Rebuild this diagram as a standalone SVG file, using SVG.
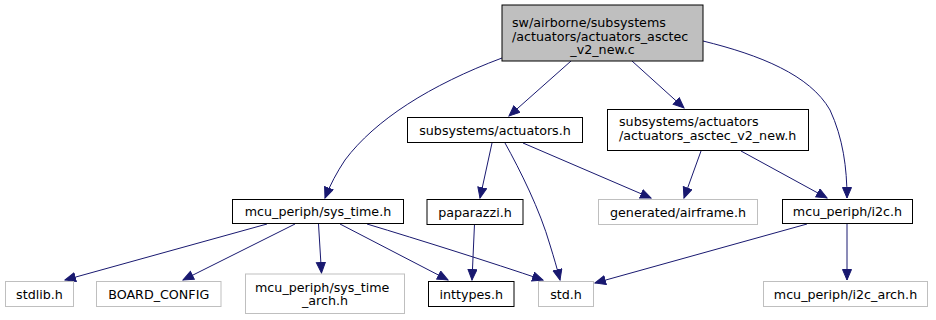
<svg xmlns="http://www.w3.org/2000/svg" width="936" height="320" viewBox="0 0 936 320">
  <style>
    .box { fill: #ffffff; stroke: #000000; stroke-width: 1; }
    .ext { fill: #ffffff; stroke: #bfbfbf; stroke-width: 1; }
    .root { fill: #bfbfbf; stroke: #000000; stroke-width: 1; }
    text { font-family: "DejaVu Sans", "Liberation Sans", sans-serif; font-size: 12.7px; fill: #000000; }
    .c { text-anchor: middle; }
    .edge { fill: none; stroke: #191970; stroke-width: 1; marker-end: url(#arrow); }
  </style>
  <defs>
    <marker id="arrow" markerUnits="userSpaceOnUse" markerWidth="12" markerHeight="11" refX="11" refY="5" orient="auto">
      <path d="M0.5,0.5 L11,5 L0.5,9.5 Z" fill="#191970" stroke="#191970" stroke-width="1"/>
    </marker>
  </defs>

  <rect width="936" height="320" fill="#ffffff"/>

  <g id="edges">
    <path class="edge" d="M502,58 C430,85 375,120 345,160 C337,172 330,185 325,198"/>
    <path class="edge" d="M571,61 L509,116"/>
    <path class="edge" d="M632,61 L684,108"/>
    <path class="edge" d="M703,41 C760,55 810,75 830,110 C843,138 847,168 847,198"/>
    <path class="edge" d="M492,143 L480,198"/>
    <path class="edge" d="M505,143 C520,170 540,210 550,245 C554,258 557,268 560,280"/>
    <path class="edge" d="M523,143 L651,198"/>
    <path class="edge" d="M701,151 L684,198"/>
    <path class="edge" d="M741,151 L827,198"/>
    <path class="edge" d="M474.5,224 L472,280"/>
    <path class="edge" d="M267,224 L65,280"/>
    <path class="edge" d="M295,224 L183,280"/>
    <path class="edge" d="M318.5,224 L321.5,273"/>
    <path class="edge" d="M340,224 L448,280"/>
    <path class="edge" d="M367,224 C420,240 490,262 543,280"/>
    <path class="edge" d="M807,224 L595,283"/>
    <path class="edge" d="M847,224 L847,280"/>
  </g>

  <g id="node-root">
    <rect class="root" x="502" y="5" width="201" height="56"/>
    <text x="512" y="27">sw/airborne/subsystems</text>
    <text x="512" y="40.5">/actuators/actuators_asctec</text>
    <text class="c" x="602.5" y="54">_v2_new.c</text>
  </g>

  <g id="node-actuators-h">
    <rect class="box" x="407.5" y="117.5" width="175" height="25"/>
    <text class="c" x="495" y="134.5">subsystems/actuators.h</text>
  </g>

  <g id="node-actuators-asctec-h">
    <rect class="box" x="607.5" y="109.5" width="201" height="41"/>
    <text x="619" y="126">subsystems/actuators</text>
    <text x="619" y="139.5">/actuators_asctec_v2_new.h</text>
  </g>

  <g id="node-sys-time-h">
    <rect class="box" x="232.5" y="199.5" width="171" height="24"/>
    <text class="c" x="318" y="216">mcu_periph/sys_time.h</text>
  </g>

  <g id="node-paparazzi-h">
    <rect class="box" x="427" y="199.5" width="96" height="25"/>
    <text class="c" x="475" y="216.5">paparazzi.h</text>
  </g>

  <g id="node-airframe-h">
    <rect class="ext" x="598.5" y="199.5" width="159" height="25"/>
    <text class="c" x="678" y="216.5">generated/airframe.h</text>
  </g>

  <g id="node-i2c-h">
    <rect class="box" x="782.5" y="199.5" width="130" height="24"/>
    <text class="c" x="847.5" y="216">mcu_periph/i2c.h</text>
  </g>

  <g id="node-stdlib-h">
    <rect class="ext" x="5.5" y="281.5" width="68" height="25"/>
    <text class="c" x="39.5" y="298.5">stdlib.h</text>
  </g>

  <g id="node-board-config">
    <rect class="ext" x="96.5" y="281.5" width="124.5" height="25"/>
    <text class="c" x="158.7" y="298.5">BOARD_CONFIG</text>
  </g>

  <g id="node-sys-time-arch-h">
    <rect class="ext" x="245.5" y="274" width="159" height="39.5"/>
    <text x="255" y="291.5">mcu_periph/sys_time</text>
    <text class="c" x="325" y="305">_arch.h</text>
  </g>

  <g id="node-inttypes-h">
    <rect class="box" x="428.5" y="281.5" width="85.5" height="25"/>
    <text class="c" x="471.2" y="298.5">inttypes.h</text>
  </g>

  <g id="node-std-h">
    <rect class="ext" x="538.5" y="281.5" width="55" height="25"/>
    <text class="c" x="566" y="298.5">std.h</text>
  </g>

  <g id="node-i2c-arch-h">
    <rect class="ext" x="763.5" y="281.5" width="164" height="25"/>
    <text class="c" x="845.5" y="298.5">mcu_periph/i2c_arch.h</text>
  </g>
</svg>
